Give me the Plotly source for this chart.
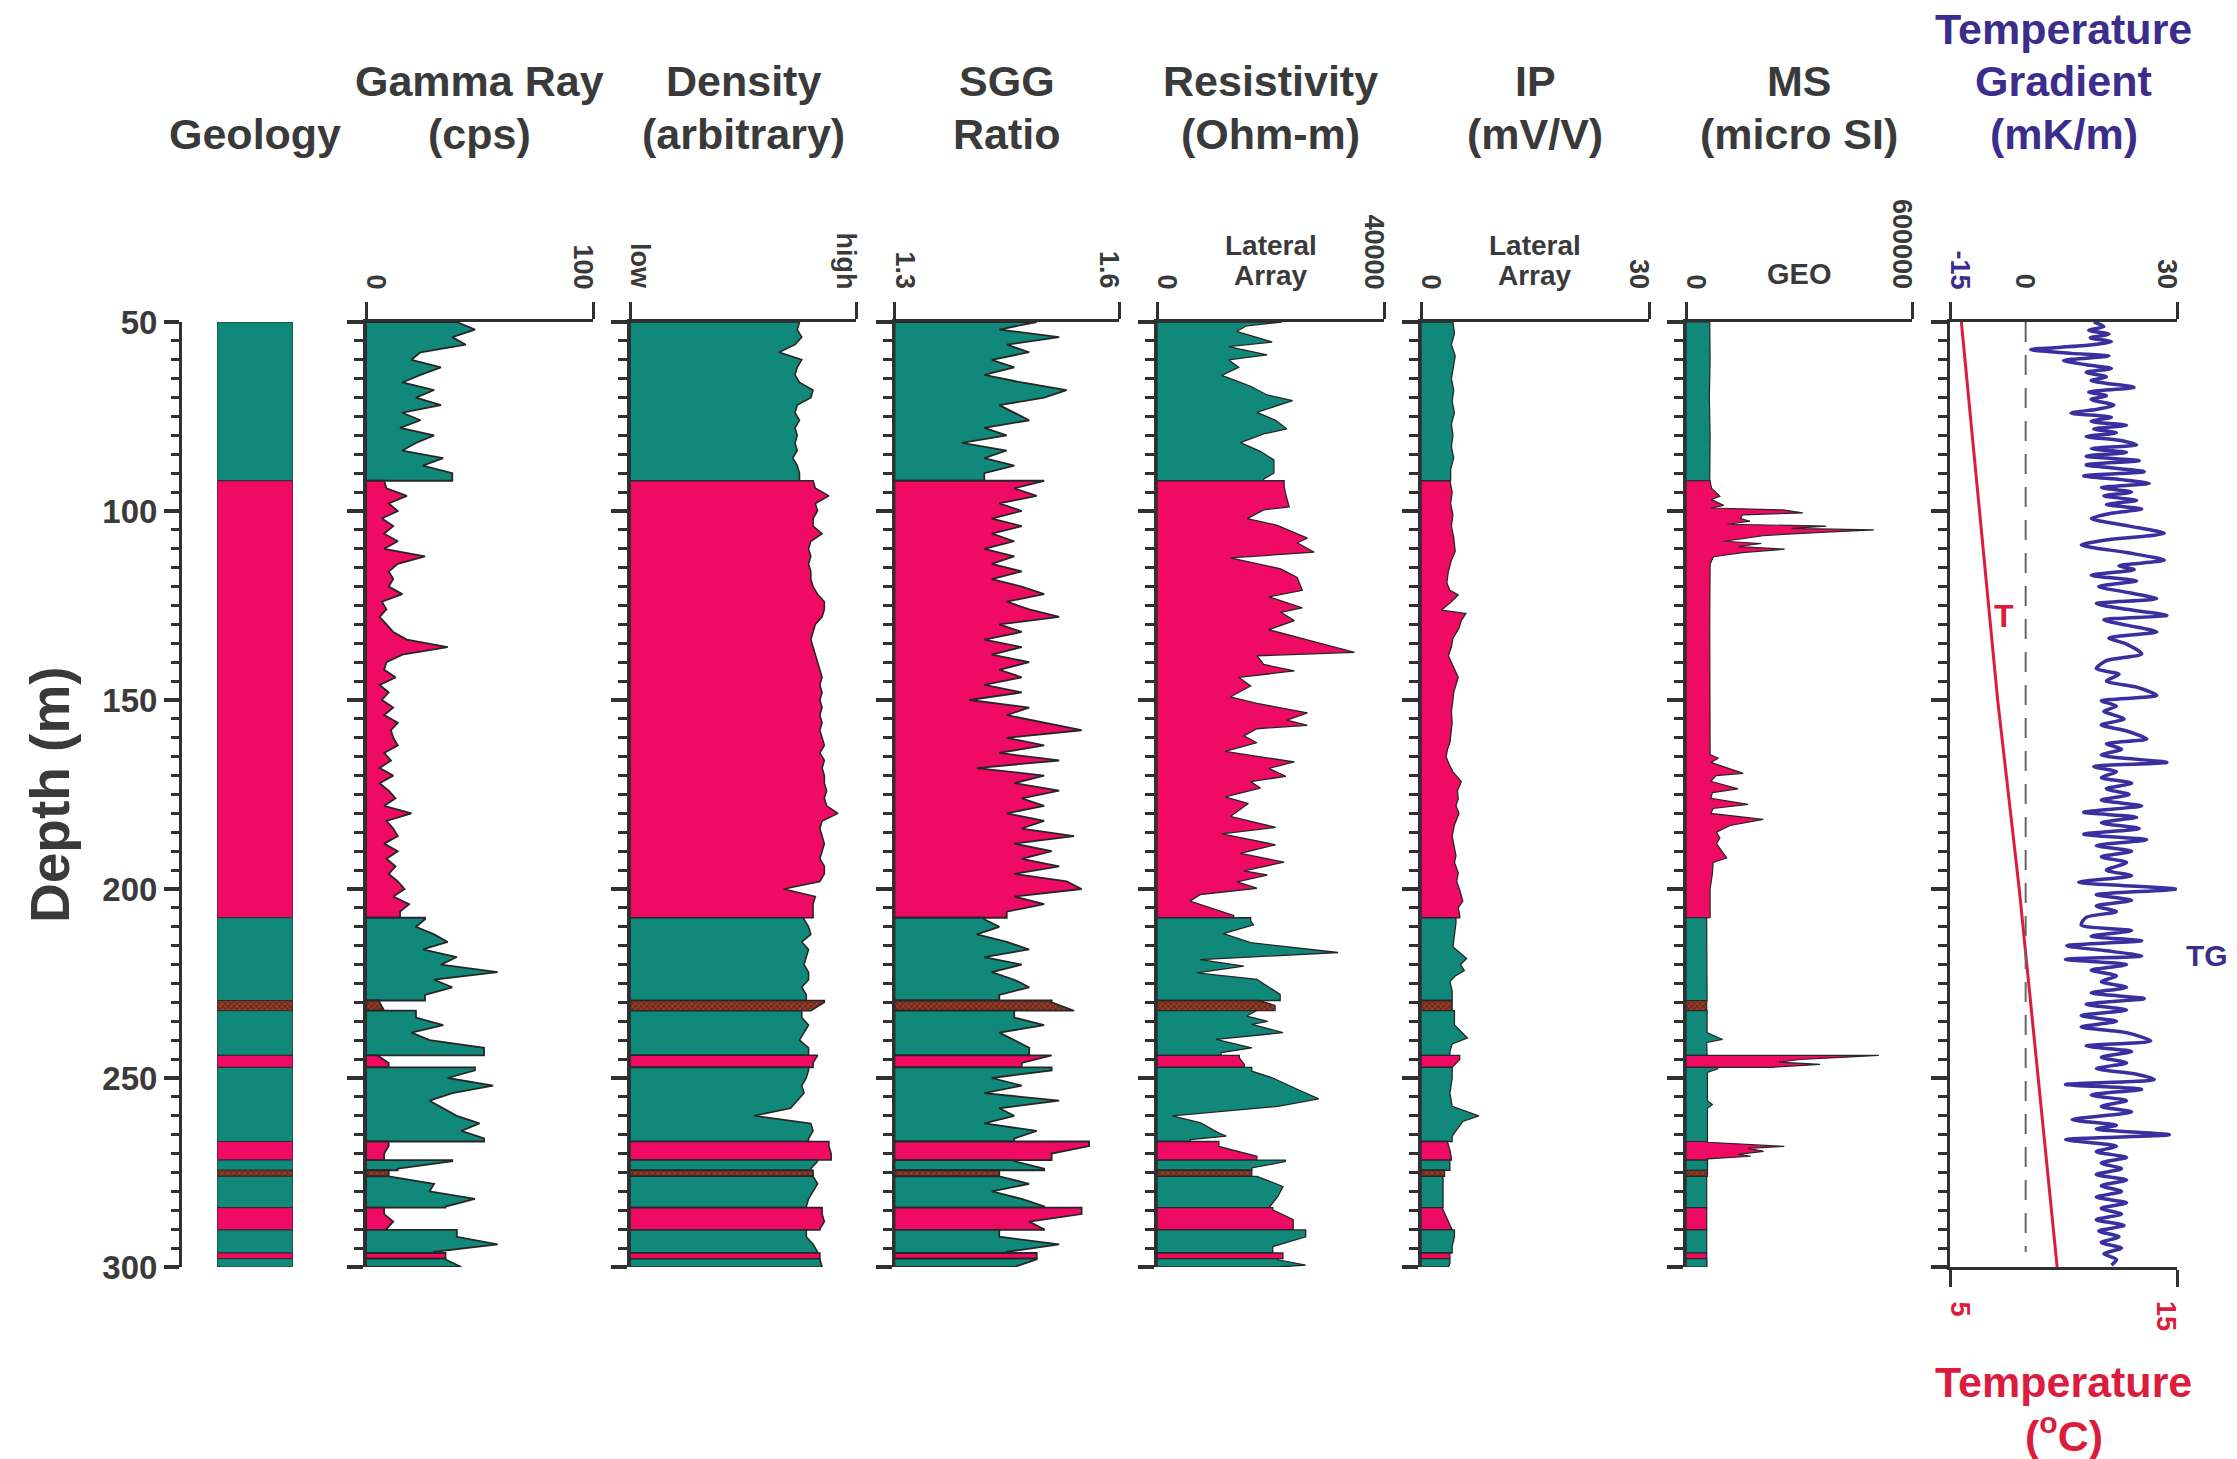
import numpy as np
import plotly.graph_objects as go

# ------------------------------------------------------------------ data
# Lithology column (depth in m)
LITH_TOP = [50, 92, 207.6, 229.5, 232.2, 244, 247.2, 266.8, 271.7, 274.4, 276, 284.3, 290.2, 296.3, 297.8]
LITH_BOT = [92, 207.6, 229.5, 232.2, 244, 247.2, 266.8, 271.7, 274.4, 276, 284.3, 290.2, 296.3, 297.8, 300]
LITH_KIND = ['teal', 'pink', 'teal', 'brown', 'teal', 'pink', 'teal', 'pink', 'teal', 'brown',
             'teal', 'pink', 'teal', 'pink', 'teal']

# Densely sampled logs: one value every 2 m from 50 to 300 m
LOG_DEPTH = list(range(50, 301, 2))
GAMMA = [40, 48, 38, 44, 24, 20, 33, 24, 16, 30,
         22, 33, 16, 24, 15, 30, 22, 16, 34, 25,
         38, 8, 9, 18, 10, 14, 7, 12, 8, 14,
         8, 26, 14, 10, 12, 10, 16, 7, 9, 6,
         9, 12, 18, 36, 16, 9, 8, 13, 6, 10,
         7, 12, 8, 14, 11, 12, 14, 8, 11, 6,
         12, 6, 10, 13, 8, 20, 9, 12, 14, 8,
         14, 9, 13, 10, 14, 17, 12, 19, 15, 26,
         22, 30, 36, 25, 40, 33, 58, 30, 38, 26,
         6, 8, 22, 34, 20, 28, 52, 5, 10, 48,
         36, 56, 38, 28, 34, 40, 50, 42, 52, 10,
         8, 38, 14, 10, 30, 28, 48, 35, 8, 12,
         9, 40, 58, 30, 35, 42]
DENSITY = [75, 74, 76, 73, 66, 76, 74, 73, 75, 81,
           80, 74, 73, 75, 73, 74, 73, 74, 72, 74,
           75, 81, 82, 88, 82, 83, 81, 81, 85, 80,
           79, 80, 79, 80, 80, 81, 83, 86, 86, 85,
           82, 81, 80, 81, 82, 83, 84, 85, 84, 85,
           84, 85, 84, 85, 84, 85, 86, 84, 86, 85,
           86, 86, 87, 86, 87, 92, 85, 84, 85, 86,
           85, 84, 86, 86, 84, 68, 82, 81, 81, 77,
           79, 80, 76, 79, 78, 77, 79, 79, 76, 78,
           86, 80, 76, 79, 77, 75, 79, 83, 81, 79,
           78, 76, 77, 74, 71, 55, 80, 81, 79, 88,
           89, 83, 80, 81, 83, 81, 79, 78, 85, 86,
           84, 78, 81, 83, 84, 85]
SGG = [1.49, 1.44, 1.52, 1.45, 1.48, 1.43, 1.46, 1.42, 1.47, 1.53,
       1.50, 1.44, 1.46, 1.48, 1.42, 1.45, 1.39, 1.45, 1.42, 1.46,
       1.42, 1.50, 1.46, 1.49, 1.44, 1.47, 1.43, 1.47, 1.43, 1.46,
       1.42, 1.46, 1.43, 1.47, 1.43, 1.47, 1.50, 1.45, 1.48, 1.52,
       1.44, 1.47, 1.42, 1.47, 1.43, 1.48, 1.44, 1.47, 1.42, 1.47,
       1.40, 1.48, 1.45, 1.50, 1.55, 1.45, 1.50, 1.44, 1.52, 1.41,
       1.50, 1.46, 1.52, 1.47, 1.50, 1.45, 1.50, 1.47, 1.54, 1.46,
       1.51, 1.47, 1.52, 1.46, 1.53, 1.55, 1.46, 1.50, 1.45, 1.42,
       1.44, 1.41, 1.45, 1.48, 1.42, 1.47, 1.43, 1.46, 1.48, 1.44,
       1.51, 1.54, 1.46, 1.50, 1.44, 1.46, 1.48, 1.51, 1.47, 1.51,
       1.43, 1.47, 1.42, 1.52, 1.44, 1.46, 1.42, 1.49, 1.46, 1.56,
       1.51, 1.46, 1.50, 1.44, 1.48, 1.43, 1.47, 1.50, 1.55, 1.48,
       1.50, 1.44, 1.52, 1.45, 1.49, 1.46]

# Resistivity, lateral array (Ohm-m)
RES_DEPTH = [50, 51, 52.5, 55.3, 56.5, 58.7, 60, 62, 64.1, 65.3, 67, 69.3, 70.8, 73.9, 76, 78.3, 79.6,
             81.9, 84.2, 86.5, 90, 91.5, 93.4, 95.7, 98.9, 99.7, 102, 103.8, 107.2, 108.4, 110.9, 112.4,
             115.3, 117.6, 121, 122.7, 125.6, 126.8, 129, 131.4, 134.8, 137.4, 138.3, 140.6, 142.3, 144,
             146.3, 149.2, 150.9, 153.4, 155.3, 156.7, 157.6, 159.5, 161.3, 163.6, 166.4, 168.1, 170.2,
             171.6, 173.3, 175.6, 177.4, 180.8, 183.7, 185.4, 188.3, 190.6, 192.9, 195.2, 196.3, 198.1,
             199.8, 201.5, 203.2, 205, 207, 208.4, 209.5, 211.8, 214.2, 216.8, 218.7, 220.4, 222.2,
             223.9, 225.7, 227.9, 229.5, 230.8, 232.2, 233.6, 235, 235.8, 238, 239.8, 242, 243.3, 244.7,
             246.4, 248.2, 250, 253.1, 255.5, 257.5, 258.8, 260, 261.9, 264.6, 265.4, 266.3, 268.1,
             270.7, 272.1, 273.8, 274.7, 276, 278.7, 281.3, 284, 284.9, 287.5, 289.7, 292, 294.6,
             296.8, 298.1, 299.5, 300]
RES_VALUE = [22000, 15800, 14000, 20300, 12600, 19400, 12600, 14400, 11400, 13500, 16500, 19400, 23900,
             17600, 20900, 22900, 18800, 14700, 18200, 20600, 20600, 18800, 22400, 22700, 23300, 18800,
             15900, 21200, 26500, 24700, 27700, 12900, 21800, 24700, 25600, 19700, 25600, 21800, 24200,
             19700, 28300, 34800, 17600, 18800, 24200, 14400, 16500, 12900, 17600, 26500, 22900, 26500,
             17600, 15300, 17600, 12000, 24200, 19700, 22700, 16500, 18200, 12000, 16100, 12900, 20900,
             11400, 20900, 14700, 22400, 15300, 19400, 14100, 17600, 7600, 5800, 9400, 13500, 16500,
             17000, 11700, 16500, 31900, 7600, 15300, 7000, 17600, 19500, 21700, 18000, 20800, 17500,
             15800, 19500, 16700, 22200, 10400, 16700, 11300, 14500, 15400, 16700, 20400, 24900, 28500,
             21300, 12200, 2700, 7700, 10900, 12200, 5900, 10900, 17600, 22600, 16700, 16700, 17600,
             22200, 21300, 19900, 20400, 24000, 24000, 26200, 20400, 22200, 21300, 26200, 21300]

# Induced polarisation, lateral array (mV/V)
IP_DEPTH = [50, 53, 56, 59, 62, 65, 68, 71, 74, 77, 80, 83, 86, 89, 92, 95, 98, 101, 104, 107, 110.7, 113,
            116, 119, 121, 122.2, 124, 126.2, 127.1, 129, 131, 133.7, 136, 138.3, 140, 142, 144, 146, 148,
            150, 153, 156, 159, 161.3, 163, 165, 167, 169, 171.6, 174, 176.2, 178, 180, 183, 186, 188,
            191.2, 193, 195.7, 198, 200.3, 203.2, 205, 207, 209, 212, 215.3, 218.4, 220, 221.6, 223,
            224.5, 227, 230, 233, 236, 239.4, 241, 243, 245.1, 247, 250, 254, 257.5, 260, 261.5, 263.5,
            265.4, 267, 269, 271.2, 272.5, 275, 277, 281, 284.4, 287.5, 290, 292, 294.6, 297, 299, 300]
IP_VALUE = [4.2, 4.4, 4.0, 4.5, 4.2, 4.0, 4.3, 4.1, 4.4, 4.0, 4.2, 4.0, 4.3, 3.9, 3.8, 4.1, 3.9, 4.2, 4.0,
            4.3, 4.5, 4.0, 3.6, 3.4, 3.8, 4.9, 4.0, 2.7, 5.9, 5.3, 5.0, 4.2, 4.0, 3.6, 4.0, 4.5, 4.9, 4.6,
            4.3, 4.2, 4.0, 4.1, 3.9, 3.8, 3.5, 3.3, 3.7, 4.2, 5.3, 4.8, 4.9, 4.6, 5.0, 4.4, 4.1, 4.3, 4.6,
            4.4, 4.9, 4.7, 5.1, 5.5, 4.9, 5.1, 4.6, 4.4, 4.2, 6.0, 5.2, 5.7, 4.5, 3.8, 4.1, 4.1, 4.4, 4.4,
            6.1, 4.1, 3.8, 5.1, 4.1, 4.1, 3.8, 4.1, 7.6, 5.5, 4.8, 4.1, 3.5, 3.8, 4.0, 3.8, 3.1, 2.9, 2.9,
            2.8, 3.5, 4.1, 4.4, 4.1, 3.8, 3.8, 3.6]

# Magnetic susceptibility, GEO probe (micro SI)
MS_DEPTH = [50, 60, 70, 80, 90, 92, 94, 96.1, 97, 98.5, 99.2, 99.7, 100.5, 101, 102, 102.7, 103.5, 104,
            104.6, 105, 105.7, 106.5, 107.4, 108, 108.6, 109.4, 110.1, 111, 112.1, 114, 130, 150, 164.4,
            165.4, 166.5, 169.4, 170, 171.5, 173.5, 174.5, 176, 177.6, 178.7, 180, 181.6, 183.2, 185,
            186.5, 188, 191.8, 193, 196, 200, 210, 220, 230, 238, 239.8, 240.6, 243.5, 244.0, 244.5,
            245.1, 245.8, 246.4, 247.1, 247.6, 248.5, 256, 257, 258, 267, 267.2, 268.1, 268.6, 269.4,
            270.2, 270.7, 271.4, 280, 290, 300]
MS_VALUE = [63000, 64000, 62000, 64000, 63000, 64000, 68000, 90000, 67000, 100000, 66000, 257000, 310000,
            150000, 145000, 170000, 110000, 372000, 280000, 499000, 345000, 205000, 145000, 100000,
            200000, 140000, 262000, 150000, 73000, 64000, 63000, 64000, 64000, 86000, 66000, 152000,
            80000, 66000, 138000, 70000, 66000, 165000, 72000, 66000, 205000, 117000, 81000, 90000, 81000,
            108000, 72000, 70000, 64000, 55000, 56000, 55000, 56000, 97000, 55000, 56000, 512000, 423000,
            301000, 247000, 356000, 233000, 84000, 57000, 57000, 70000, 57000, 57000, 98000, 261000,
            165000, 206000, 138000, 172000, 57000, 55000, 55000, 55000]

# Temperature gradient (mK/m)
TG_DEPTH = [50, 51.2, 52.2, 53.2, 54.2, 55.2, 56.3, 57.3, 58.3, 59.0, 60.2, 61.3, 62.3, 63.3, 64.5, 65.5,
            67.3, 68.5, 69.5, 70.5, 72.0, 73.0, 74.1, 75.2, 76.3, 77.3, 78.3, 79.3, 80.3, 81.3, 82.5, 83.5,
            84.5, 85.5, 86.7, 87.8, 89.6, 90.7, 91.7, 92.7, 93.8, 95.0, 96.0, 97.2, 98.3, 99.5, 100.6,
            102.0, 104.0, 105.9, 107.5, 109.0, 111.0, 113.0, 114.5, 115.5, 117.0, 118.5, 120.0, 121.5,
            123.2, 124.5, 126.0, 127.6, 128.8, 130.2, 132.0, 133.6, 135.2, 137.8, 139.6, 141.7, 143.2,
            145.0, 146.6, 148.8, 150.2, 151.6, 153.0, 155.0, 156.6, 158.2, 160.3, 161.6, 163.0, 164.6,
            166.5, 167.6, 169.0, 170.5, 172.0, 173.5, 175.0, 176.5, 178.0, 179.7, 181.0, 182.5, 184.0,
            185.5, 187.0, 188.5, 190.0, 191.5, 193.0, 195.0, 196.5, 198.2, 200.0, 201.5, 203.0, 204.5,
            206.0, 207.5, 209.5, 211.0, 212.5, 213.7, 215.0, 216.5, 217.7, 218.6, 220.0, 221.5, 223.0,
            224.5, 226.0, 227.5, 229.0, 230.5, 232.0, 233.5, 235.0, 236.5, 238.0, 240.2, 241.5, 243.0,
            244.5, 246.0, 247.5, 249.0, 250.4, 251.7, 253.0, 254.5, 256.0, 257.5, 259.0, 261.0, 262.5,
            263.5, 265.0, 266.3, 268.0, 269.5, 271.0, 272.5, 274.0, 275.5, 277.0, 278.5, 280.0, 281.5,
            283.0, 284.5, 286.0, 287.5, 289.0, 290.5, 292.0, 293.5, 295.0, 296.5, 298.0, 299.5]
TG_VALUE = [13.5, 15.5, 12.5, 16.5, 12.8, 17.0, 11.0, 1.0, 9.0, 16.5, 7.5, 12.0, 17.0, 12.0, 16.0, 13.0,
            21.5, 12.5, 16.0, 13.0, 17.5, 14.5, 9.0, 17.0, 13.0, 20.0, 13.5, 18.0, 12.0, 18.5, 22.0, 13.0,
            20.0, 12.0, 22.5, 12.0, 23.5, 11.5, 19.0, 24.5, 15.0, 21.0, 15.5, 22.0, 16.0, 23.0, 17.0,
            13.0, 20.5, 27.5, 17.0, 11.0, 20.0, 27.5, 18.5, 21.5, 13.0, 22.0, 14.5, 20.0,
            26.0, 14.0, 20.0, 28.0, 15.5, 20.0, 26.0, 16.5, 20.0, 23.0, 16.0, 14.0, 18.5,
            16.0, 22.0, 26.0, 15.0, 18.0, 15.5, 19.5, 15.0, 20.0, 24.0, 16.0, 19.0, 15.0,
            28.0, 13.5, 18.0, 15.0, 21.0, 16.0, 20.5, 15.0, 23.0, 11.5, 22.0, 15.0, 22.5,
            11.5, 24.0, 14.0, 21.0, 15.0, 20.0, 16.0, 21.0, 10.5, 29.8, 14.0, 21.0, 14.0,
            18.0, 12.0, 11.0, 21.0, 13.0, 23.0, 8.2, 17.0, 23.0, 7.9, 20.0, 13.0, 18.0,
            15.0, 20.0, 13.0, 23.5, 12.0, 20.0, 11.0, 18.0, 11.0, 20.0, 24.8, 12.0, 21.0,
            15.0, 20.0, 14.0, 22.0, 25.5, 7.9, 23.0, 13.0, 20.0, 15.0, 21.0, 9.2, 18.0,
            14.0, 28.5, 7.9, 18.0, 14.0, 20.0, 15.0, 19.0, 14.0, 20.0, 15.0, 19.0, 14.0,
            20.0, 15.0, 19.0, 14.0, 19.5, 14.5, 18.5, 15.0, 19.0, 15.5, 18.0, 17.0]

# Temperature (deg C)
T_DEPTH = [50, 100, 150, 200, 250, 300]
T_VALUE = [5.5, 6.3, 7.1, 8.05, 8.9, 9.72]

# Axis end labels
GAMMA_TICKS, GAMMA_LABELS = [0, 100], ['0', '100']
DENS_TICKS, DENS_LABELS = [0, 100], ['low', 'high']
SGG_TICKS, SGG_LABELS = [1.3, 1.6], ['1.3', '1.6']
RES_TICKS, RES_LABELS = [0, 40000], ['0', '40000']
IP_TICKS, IP_LABELS = [0, 30], ['0', '30']
MS_TICKS, MS_LABELS = [0, 600000], ['0', '600000']
TG_TICKS, TG_LABELS = [-15, 0, 30], ['-15', '0', '30']
T_TICKS, T_LABELS = [5, 15], ['5', '15']
DEPTH_TICKS = [50, 100, 150, 200, 250, 300]
GEO_RANGE = [0, 1]

# ------------------------------------------------------------------ style
W, H = 2237, 1459
FONT = "Liberation Sans, Arial, Helvetica, sans-serif"
TXT = "#3a3a3a"
AX = "#303030"
PURPLE = "#3b2d8c"
CURVE_PURPLE = "#3a2f9e"
RED = "#dc1c3c"
COLORS = {'teal': '#11897a', 'pink': '#ef0a63', 'brown': '#9a3e2b'}
BROWN_PATTERN = dict(shape='x', fgcolor='#5e2417', bgcolor='#9a3e2b', size=4, solidity=0.45)


def fx(p):
    return p / W


def fy(p):
    return 1 - p / H


TOP_PX, BOT_PX = 322, 1267
YDOM = [fy(BOT_PX), fy(TOP_PX)]

# panel: (axis index, x-domain px, range)
PANELS = [
    (2, [366, 593], [0, 100]),
    (3, [630, 856], [0, 100]),
    (4, [894.5, 1119], [1.3, 1.6]),
    (5, [1157, 1384], [0, 40000]),
    (6, [1421, 1649], [0, 30]),
    (7, [1686, 1912], [0, 600000]),
    (8, [1950, 2177], [-15, 30]),
]
GEO_DOM = [217, 293]

fig = go.Figure()

# ------------------------------------------------------------------ geology column
g0, g1 = GEO_RANGE
for t, b, kind in zip(LITH_TOP, LITH_BOT, LITH_KIND):
    kw = dict(fillcolor=COLORS[kind])
    if kind == 'brown':
        kw['fillpattern'] = BROWN_PATTERN
    fig.add_trace(go.Scatter(x=[g0, g1, g1, g0, g0], y=[t, t, b, b, t], mode='lines',
                             fill='toself', line=dict(color='#2a2a2a', width=1),
                             xaxis='x', yaxis='y', hoverinfo='skip', **kw))


# ------------------------------------------------------------------ filled logs
def add_log(depths, values, base, k, lw):
    d = np.asarray(depths, float)
    v = np.asarray(values, float)
    n = len(LITH_TOP)
    for i, (t, b, kind) in enumerate(zip(LITH_TOP, LITH_BOT, LITH_KIND)):
        m = (d >= t) & ((d <= b) if i == n - 1 else (d < b))
        if m.any():
            dd, vv = d[m], v[m]
        else:
            j = int(np.argmin(np.abs(d - (t + b) / 2)))
            dd, vv = d[j:j + 1], v[j:j + 1]
        ys = [t, t] + list(dd) + [b, b, t]
        xs = [base, vv[0]] + list(vv) + [vv[-1], base, base]
        kw = dict(fillcolor=COLORS[kind])
        if kind == 'brown':
            kw['fillpattern'] = BROWN_PATTERN
        fig.add_trace(go.Scatter(x=xs, y=ys, mode='lines', fill='toself',
                                 line=dict(color='#262626', width=lw),
                                 xaxis=f'x{k}', yaxis=f'y{k}', hoverinfo='skip', **kw))


add_log(LOG_DEPTH, GAMMA, 0, 2, 1.8)
add_log(LOG_DEPTH, DENSITY, 0, 3, 1.6)
add_log(LOG_DEPTH, SGG, 1.3, 4, 1.8)
add_log(RES_DEPTH, RES_VALUE, 0, 5, 1.3)
add_log(IP_DEPTH, IP_VALUE, 0, 6, 1.3)
add_log(MS_DEPTH, MS_VALUE, 0, 7, 1.2)

# ------------------------------------------------------------------ temperature panel
fig.add_shape(type='line', xref='x8', yref='y8', x0=0, x1=0, y0=50, y1=296,
              line=dict(color='#666666', width=2, dash='20px,13px'))
fig.add_trace(go.Scatter(x=TG_VALUE, y=TG_DEPTH, mode='lines',
                         line=dict(color=CURVE_PURPLE, width=3.5, shape='spline', smoothing=0.7),
                         xaxis='x8', yaxis='y8', hoverinfo='skip'))
fig.add_trace(go.Scatter(x=T_VALUE, y=T_DEPTH, mode='lines',
                         line=dict(color=RED, width=3),
                         xaxis='x9', yaxis='y8', hoverinfo='skip'))

# ------------------------------------------------------------------ axes
layout = dict(template='none', width=W, height=H, autosize=False,
              margin=dict(l=0, r=0, t=0, b=0, pad=0, autoexpand=False),
              paper_bgcolor='white', plot_bgcolor='white', showlegend=False,
              font=dict(family=FONT, color=TXT))

layout['xaxis'] = dict(domain=[fx(GEO_DOM[0]), fx(GEO_DOM[1])], range=GEO_RANGE, visible=False,
                       anchor='y', automargin=False)
layout['yaxis'] = dict(domain=YDOM, range=[300, 50], anchor='free', position=fx(180), side='left',
                       automargin=False,
                       showline=True, linewidth=3, linecolor=AX, ticks='outside',
                       tickmode='array', tickvals=DEPTH_TICKS, ticklen=15, tickwidth=3.5,
                       tickcolor=AX,
                       minor=dict(ticks='outside', dtick=5, tick0=50, ticklen=8, tickwidth=2.5,
                                  tickcolor=AX, showgrid=False),
                       tickfont=dict(family=FONT, size=33, color=TXT, weight='bold'),
                       showgrid=False, zeroline=False)

for k, dom, rng in PANELS:
    layout[f'xaxis{k}'] = dict(domain=[fx(dom[0]), fx(dom[1])], range=rng, side='top',
                               anchor=f'y{k}', automargin=False,
                               showline=True, linewidth=3, linecolor=AX,
                               ticks='outside', tickmode='array', tickvals=rng, ticklen=17,
                               tickwidth=3, tickcolor=AX, showticklabels=False,
                               showgrid=False, zeroline=False)
    layout[f'yaxis{k}'] = dict(domain=YDOM, range=[300, 50], anchor=f'x{k}', side='left',
                               automargin=False,
                               showline=True, linewidth=3, linecolor=AX, ticks='outside',
                               tickmode='array', tickvals=DEPTH_TICKS, ticklen=16, tickwidth=3.5,
                               tickcolor=AX,
                               minor=dict(ticks='outside', dtick=5, tick0=50, ticklen=9,
                                          tickwidth=2.5, tickcolor=AX, showgrid=False),
                               showticklabels=False, showgrid=False, zeroline=False)

layout['xaxis9'] = dict(overlaying='x8', side='bottom', anchor='y8', range=[5, 15],
                        automargin=False,
                        showline=True, linewidth=3, linecolor=AX, ticks='outside',
                        tickmode='array', tickvals=[5, 15], ticklen=17, tickwidth=3,
                        tickcolor=AX, showticklabels=False, showgrid=False, zeroline=False)
fig.update_layout(**layout)


# ------------------------------------------------------------------ text
def ann(text, xpx, ypx, size, color=TXT, angle=0, xanchor='center', yanchor='middle', bold=True):
    fig.add_annotation(text=text, x=fx(xpx), y=fy(ypx), xref='paper', yref='paper',
                       showarrow=False, textangle=angle, xanchor=xanchor, yanchor=yanchor,
                       font=dict(family=FONT, size=size, color=color,
                                 weight='bold' if bold else 'normal'))


HEADERS = [
    (GEO_DOM, ['', '', 'Geology'], TXT),
    (PANELS[0][1], ['', 'Gamma Ray', '(cps)'], TXT),
    (PANELS[1][1], ['', 'Density', '(arbitrary)'], TXT),
    (PANELS[2][1], ['', 'SGG', 'Ratio'], TXT),
    (PANELS[3][1], ['', 'Resistivity', '(Ohm-m)'], TXT),
    (PANELS[4][1], ['', 'IP', '(mV/V)'], TXT),
    (PANELS[5][1], ['', 'MS', '(micro SI)'], TXT),
    (PANELS[6][1], ['Temperature', 'Gradient', '(mK/m)'], PURPLE),
]
LINE_Y = [29, 81, 134]
for dom, lines, col in HEADERS:
    cx = (dom[0] + dom[1]) / 2
    for txt, yy in zip(lines, LINE_Y):
        if txt:
            ann(txt, cx, yy, 43, color=col)

# rotated end labels on top axes
END_LABELS = [
    (2, GAMMA_TICKS, GAMMA_LABELS, [TXT, TXT]),
    (3, DENS_TICKS, DENS_LABELS, [TXT, TXT]),
    (4, SGG_TICKS, SGG_LABELS, [TXT, TXT]),
    (5, RES_TICKS, RES_LABELS, [TXT, TXT]),
    (6, IP_TICKS, IP_LABELS, [TXT, TXT]),
    (7, MS_TICKS, MS_LABELS, [TXT, TXT]),
    (8, TG_TICKS, TG_LABELS, [PURPLE, TXT, TXT]),
]
for k, vals, labs, cols in END_LABELS:
    lo, hi = min(vals), max(vals)
    for v, lab, col in zip(vals, labs, cols):
        shift = 10 if v == lo else (-10 if v == hi else 0)
        fig.add_annotation(text=lab, x=v, xref=f'x{k}', y=fy(291), yref='paper',
                           xshift=shift, showarrow=False, textangle=90,
                           xanchor='center', yanchor='bottom',
                           font=dict(family=FONT, size=27, color=col, weight='bold'))

for v, lab in zip(T_TICKS, T_LABELS):
    shift = 10 if v == min(T_TICKS) else -11
    fig.add_annotation(text=lab, x=v, xref='x9', y=fy(1299), yref='paper',
                       xshift=shift, showarrow=False, textangle=90,
                       xanchor='center', yanchor='top',
                       font=dict(family=FONT, size=27, color=RED, weight='bold'))

# sub-labels above curves
res_c = sum(PANELS[3][1]) / 2
ip_c = sum(PANELS[4][1]) / 2
ms_c = sum(PANELS[5][1]) / 2
for cx in (res_c, ip_c):
    ann('Lateral', cx, 245, 28)
    ann('Array', cx, 276, 28)
ann('GEO', ms_c, 274, 29)

# axis title and panel labels
ann('Depth (m)', 50, 795, 55, angle=-90)
ann('T', 2004, 616, 32, color=RED)
ann('TG', 2207, 956, 30, color=PURPLE)
tc = sum(PANELS[6][1]) / 2
ann('Temperature', tc, 1382, 43, color=RED)
ann('(<sup>o</sup>C)', tc, 1433, 43, color=RED)

fig.write_html("out.html", config={'responsive': False, 'displayModeBar': False})
